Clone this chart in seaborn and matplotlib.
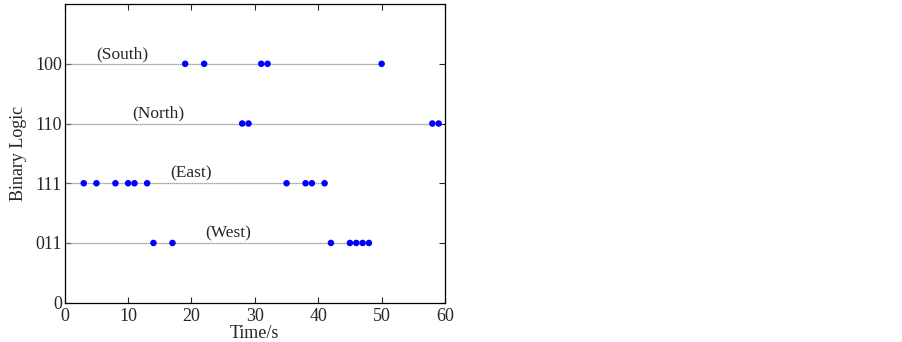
import numpy as np
import pandas as pd
import matplotlib
matplotlib.use("Agg")
import matplotlib.pyplot as plt
import seaborn as sns

# Data
directions = ["(West)", "(East)", "(North)", "(South)"]
levels = [1, 2, 3, 4]
west_times = [14, 17, 42, 45, 46, 47, 48]
east_times = [3, 5, 8, 10, 11, 13, 35, 38, 39, 41]
north_times = [28, 29, 58, 59]
south_times = [19, 22, 31, 32, 50]
label_x = [25.8, 20.0, 14.7, 9.1]
ytick_values = [0, 1, 2, 3, 4]
ytick_labels = ["0", "011", "111", "110", "100"]
xtick_values = [0, 10, 20, 30, 40, 50, 60]

series = [west_times, east_times, north_times, south_times]

sns.set_style("ticks")
plt.rcParams["font.family"] = ["Liberation Serif", "DejaVu Serif"]

fig = plt.figure(figsize=(9.03, 3.42), dpi=100)
ax = fig.add_axes([0.0717, 0.115, 0.4211, 0.873])

rows = []
for d, lv, ts in zip(directions, levels, series):
    for t in ts:
        rows.append({"direction": d, "level": lv, "time": t})
df = pd.DataFrame(rows)

for d, lv, ts in zip(directions, levels, series):
    line_df = pd.DataFrame({"time": [0] + ts, "level": [lv] * (len(ts) + 1)})
    sns.lineplot(data=line_df, x="time", y="level", ax=ax, color="#8a8a8a",
                 linestyle=(0, (1, 0.6)), linewidth=0.9, estimator=None,
                 sort=False, legend=False)

sns.scatterplot(data=df, x="time", y="level", ax=ax, color="#0000ff",
                s=22, linewidth=0, edgecolor="none", legend=False, zorder=3)

for d, lv, lx in zip(directions, levels, label_x):
    ax.text(lx, lv + 0.03, d, ha="center", va="bottom", fontsize=12.5)

ax.set_xlim(0, 60)
ax.set_ylim(0, 5)
ax.set_xticks(xtick_values)
ax.set_xticklabels([str(v) for v in xtick_values])
ax.set_yticks(ytick_values)
ax.set_yticklabels(ytick_labels)
ax.tick_params(direction="in", top=True, right=True, labelsize=13,
               length=4, width=0.8, pad=2)
ax.tick_params(axis="x", pad=4)
for s in ax.spines.values():
    s.set_visible(True)
    s.set_color("black")
    s.set_linewidth(0.9)
ax.set_xlabel("Time/s", fontsize=13, labelpad=0)
ax.set_ylabel("Binary Logic", fontsize=13, labelpad=6)

fig.savefig("out.png", dpi=100)
